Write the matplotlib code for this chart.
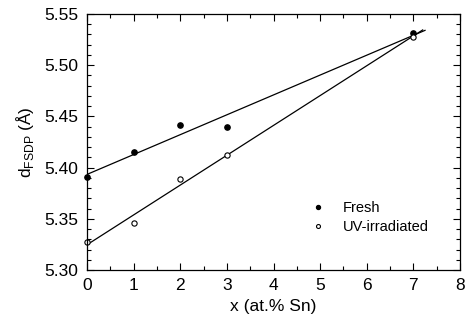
import numpy as np
import matplotlib.pyplot as plt
from matplotlib.ticker import MultipleLocator

plt.rcParams['font.family'] = ['Liberation Sans', 'DejaVu Sans']

# data
x_sn = [0, 1, 2, 3, 7]
d_fresh = [5.391, 5.415, 5.442, 5.440, 5.531]
d_uv = [5.327, 5.346, 5.389, 5.412, 5.528]

# linear fits
p_fresh = np.polyfit(x_sn, d_fresh, 1)
p_uv = np.polyfit(x_sn, d_uv, 1)
xf = np.array([0, 7.25])
xu = np.array([0, 7.2])

fig = plt.figure(figsize=(4.66, 3.22), dpi=100)
ax = fig.add_axes([87/466, 1 - 270/322, 373/466, 256/322])

ax.plot(xf, np.polyval(p_fresh, xf), color='black', lw=0.9)
ax.plot(xu, np.polyval(p_uv, xu), color='black', lw=0.9)
ax.plot(x_sn, d_fresh, 'o', color='black', ms=3.8, label='Fresh', clip_on=False)
ax.plot(x_sn, d_uv, 'o', mfc='white', mec='black', mew=0.8, ms=3.8,
        label='UV-irradiated', clip_on=False)

ax.set_xlim(0, 8)
ax.set_ylim(5.30, 5.55)
ax.xaxis.set_major_locator(MultipleLocator(1))
ax.xaxis.set_minor_locator(MultipleLocator(0.5))
ax.yaxis.set_major_locator(MultipleLocator(0.05))
ax.yaxis.set_minor_locator(MultipleLocator(0.01))
ax.yaxis.set_major_formatter(plt.FormatStrFormatter('%.2f'))
ax.tick_params(which='both', direction='in', top=True, right=True, labelsize=12.5)
ax.tick_params(which='major', length=5, width=0.8, pad=6)
ax.tick_params(which='minor', length=3, width=0.8)
for s in ax.spines.values():
    s.set_linewidth(0.9)

ax.set_xlabel('x (at.% Sn)', fontsize=12.5, labelpad=4)
ax.set_ylabel('d$_{\\mathregular{FSDP}}$ (Å)', fontsize=12.5, labelpad=6)

leg = ax.legend(loc='lower left', bbox_to_anchor=(0.565, 0.09), frameon=False,
                fontsize=10.5, markerscale=0.75, handlelength=1.0,
                handletextpad=1.2, labelspacing=0.35)

fig.savefig('out.png', dpi=100)
